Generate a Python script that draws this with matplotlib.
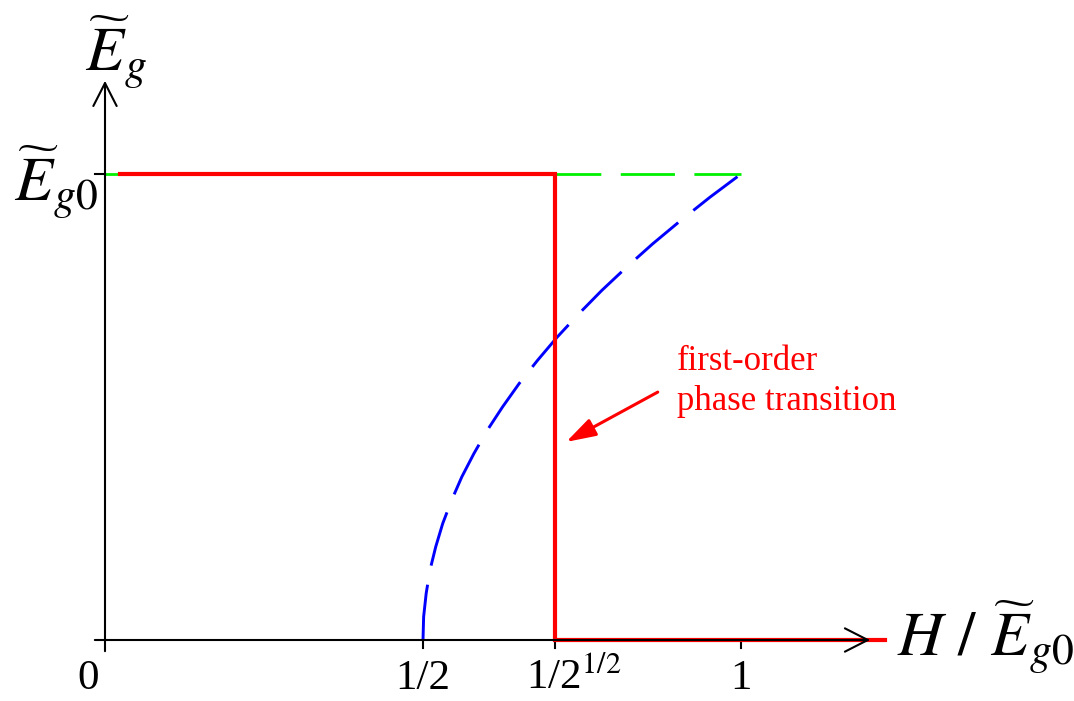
import numpy as np
import matplotlib
matplotlib.use("Agg")
import matplotlib.pyplot as plt

plt.rcParams['font.family'] = ['Liberation Serif', 'DejaVu Serif']
plt.rcParams['mathtext.fontset'] = 'stix'
plt.rcParams['lines.scale_dashes'] = False

# field values (in units of the zero-field gap) and labels on the H axis
h_ticks = [0.0, 0.5, 2 ** -0.5, 1.0]
h_labels = ['0', '1/2', '1/2$^{1/2}$', '1']
h_c = 2 ** -0.5  # first-order transition field

# gap of the ground state: full gap up to h_c, then zero
phase_h = [0.024, h_c, h_c, 1.226]
phase_e = [1.0, 1.0, 0.0, 0.0]

# constant-gap branch (metastable above h_c)
bcs_h = [0.0, 1.0]
bcs_e = [1.0, 1.0]

# unstable (Sarma) branch
sarma_h = [0.500, 0.501, 0.505, 0.511, 0.520, 0.531, 0.545, 0.561, 0.580, 0.601, 0.625,
           0.651, 0.680, 0.711, 0.745, 0.781, 0.820, 0.861, 0.905, 0.951, 1.000]
sarma_e = [0.00, 0.05, 0.10, 0.15, 0.20, 0.25, 0.30, 0.35, 0.40, 0.45, 0.50,
           0.55, 0.60, 0.65, 0.70, 0.75, 0.80, 0.85, 0.90, 0.95, 1.00]

fig = plt.figure(figsize=(10.74, 7.01), dpi=100)
ax = fig.add_axes([0, 0, 1, 1])
ax.set_xlim(-105 / 636, (1074 - 105) / 636)
ax.set_ylim(-61 / 466, 640 / 466)
ax.axis('off')

# axes with open arrow heads
arrow = dict(arrowstyle='->,head_length=0.55,head_width=0.28', lw=1.5, color='black',
             mutation_scale=30, shrinkA=0, shrinkB=0)
ax.annotate('', xy=(1.203, 0), xytext=(-0.016, 0), arrowprops=arrow)
ax.annotate('', xy=(0, 1.20), xytext=(0, -0.024), arrowprops=arrow)

# ticks
for h in h_ticks[1:]:
    ax.plot([h, h], [0, -0.017], color='black', lw=1.5)
ax.plot([-0.016, 0], [1, 1], color='black', lw=1.5)

ax.plot(bcs_h, bcs_e, color='#00f000', lw=2.0, linestyle=(0, (39, 14)))
ax.plot(sarma_h, sarma_e, color='blue', lw=2.1, linestyle=(0, (40, 14)))
ax.plot(phase_h, phase_e, color='red', lw=3.0, solid_joinstyle='miter')

# tick labels
lab_y = -0.105
ax.text(-0.027, lab_y, h_labels[0], fontsize=31, ha='center', va='baseline')
ax.text(h_ticks[1], lab_y, h_labels[1], fontsize=31, ha='center', va='baseline')
ax.text(h_ticks[2] - 0.045, lab_y, h_labels[2], fontsize=31, ha='left', va='baseline')
ax.text(h_ticks[3], lab_y, h_labels[3], fontsize=31, ha='center', va='baseline')

# axis labels
ax.text(-0.011, 0.94, r'$\widetilde{E}_{g0}$', fontsize=45, ha='right', va='baseline')
ax.text(-0.031, 1.219, r'$\widetilde{E}_{g}$', fontsize=45, ha='left', va='baseline')
ax.text(1.245, -0.036, r'$H\ /\ \widetilde{E}_{g0}$', fontsize=45, ha='left', va='baseline')

# annotation of the jump
ax.annotate('', xy=(h_c + 0.018, 0.425), xytext=(h_c + 0.162, 0.532),
            arrowprops=dict(arrowstyle='-|>,head_length=0.9,head_width=0.28', color='red',
                            lw=2.2, mutation_scale=20, shrinkA=0, shrinkB=0))
ax.text(0.899, 0.632, 'first-order\nphase transition', color='red', fontsize=25,
        ha='left', va='top', linespacing=1.25)

fig.savefig('out.png', dpi=100, facecolor='white')
